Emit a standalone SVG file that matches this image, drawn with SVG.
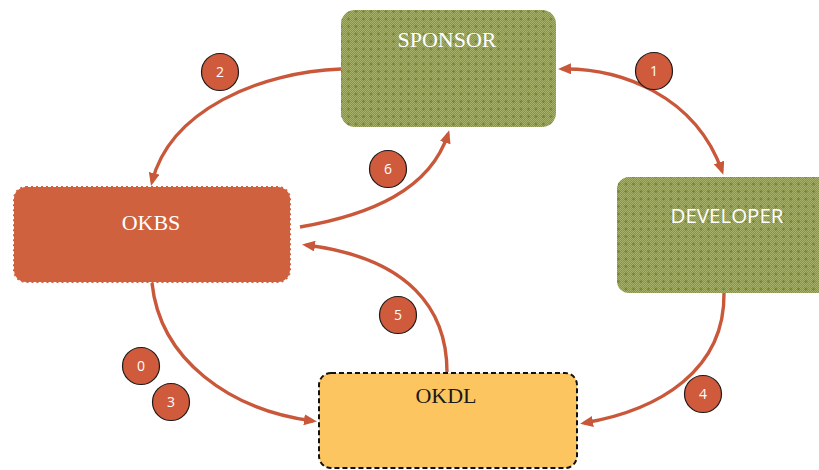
<svg xmlns="http://www.w3.org/2000/svg" width="819" height="470" viewBox="0 0 819 470">
  <defs>
    <!-- fine woven texture for the green boxes -->
    <pattern id="weave" width="2" height="2" patternUnits="userSpaceOnUse">
      <rect width="2" height="2" fill="#87934a"/>
      <rect width="1" height="1" fill="#a8b16c"/>
      <rect x="1" y="1" width="1" height="1" fill="#a8b16c"/>
    </pattern>
    <pattern id="studs" width="7.5" height="7.5" patternUnits="userSpaceOnUse">
      <rect x="3" y="2.5" width="1" height="3" fill="#6e7d28"/>
      <rect x="2" y="3.5" width="3" height="1" fill="#6e7d28"/>
    </pattern>
    <marker id="head" viewBox="0 0 13 11" refX="9" refY="5.5" markerWidth="13" markerHeight="11" markerUnits="userSpaceOnUse" orient="auto-start-reverse">
      <path d="M0,0 L13,5.5 L0,11 z" fill="#c9583b"/>
    </marker>
    <style>
      .link { fill: none; stroke: #c9583b; stroke-width: 3.4; marker-end: url(#head); }
      .green { fill: url(#weave); }
      .studs { fill: url(#studs); }
      .serif { font-family: "Liberation Serif", "Times New Roman", serif; font-size: 22px; text-anchor: middle; }
      .sans { font-family: "Open Sans", "Liberation Sans", sans-serif; text-anchor: middle; }
      .badge circle { fill: #cf5a3c; stroke: #1e1a18; stroke-width: 1.2; }
      .badge text { font-family: "Open Sans", "Liberation Sans", sans-serif; font-size: 14px; fill: #ffffff; text-anchor: middle; }
    </style>
  </defs>

  <rect width="819" height="470" fill="#ffffff"/>

  <!-- nodes -->
  <g id="sponsor">
    <rect class="green" x="341" y="10" width="215" height="117" rx="14"/>
    <rect class="studs" x="341" y="10" width="215" height="117" rx="14"/>
    <text class="serif" x="447" y="47" fill="#ffffff">SPONSOR</text>
  </g>

  <g id="okbs">
    <rect x="14" y="187" width="276" height="95" rx="12" fill="#d0613f" stroke="#d0613f" stroke-width="2" stroke-dasharray="2 3"/>
    <text class="serif" x="151" y="230" font-size="23" fill="#ffffff">OKBS</text>
  </g>

  <g id="developer">
    <rect class="green" x="617" y="177" width="220" height="116" rx="12"/>
    <rect class="studs" x="617" y="177" width="220" height="116" rx="12"/>
    <text class="sans" x="727" y="223" font-size="20.5" fill="#ffffff">DEVELOPER</text>
  </g>

  <g id="okdl">
    <rect x="319" y="373" width="258" height="95" rx="12" fill="#fdc55f" stroke="#111111" stroke-width="2" stroke-dasharray="5 3"/>
    <text class="serif" x="446" y="403" fill="#1a1a1a">OKDL</text>
  </g>

  <!-- connectors -->
  <g id="connectors">
    <path class="link" style="marker-start:url(#head)" d="M562,69 C620,68 695,95 722,171"/>
    <path class="link" d="M341,69 C260,72 170,110 152,182"/>
    <path class="link" d="M300,227 C370,215 430,190 448,134"/>
    <path class="link" d="M447,372 C447,310 410,258 306,245"/>
    <path class="link" d="M152,283 C160,360 230,410 313,421"/>
    <path class="link" d="M724,293 C725,370 660,410 584,423"/>
  </g>

  <!-- step badges -->
  <g id="badges">
    <g class="badge"><circle cx="654" cy="71" r="18.5"/><text x="654" y="76">1</text></g>
    <g class="badge"><circle cx="220" cy="72" r="18.5"/><text x="220" y="77">2</text></g>
    <g class="badge"><circle cx="388" cy="169" r="18.5"/><text x="388" y="174">6</text></g>
    <g class="badge"><circle cx="398" cy="315" r="18.5"/><text x="398" y="320">5</text></g>
    <g class="badge"><circle cx="141" cy="366" r="18.5"/><text x="141" y="371">0</text></g>
    <g class="badge"><circle cx="171" cy="402" r="18.5"/><text x="171" y="407">3</text></g>
    <g class="badge"><circle cx="703" cy="394" r="18.5"/><text x="703" y="399">4</text></g>
  </g>
</svg>
